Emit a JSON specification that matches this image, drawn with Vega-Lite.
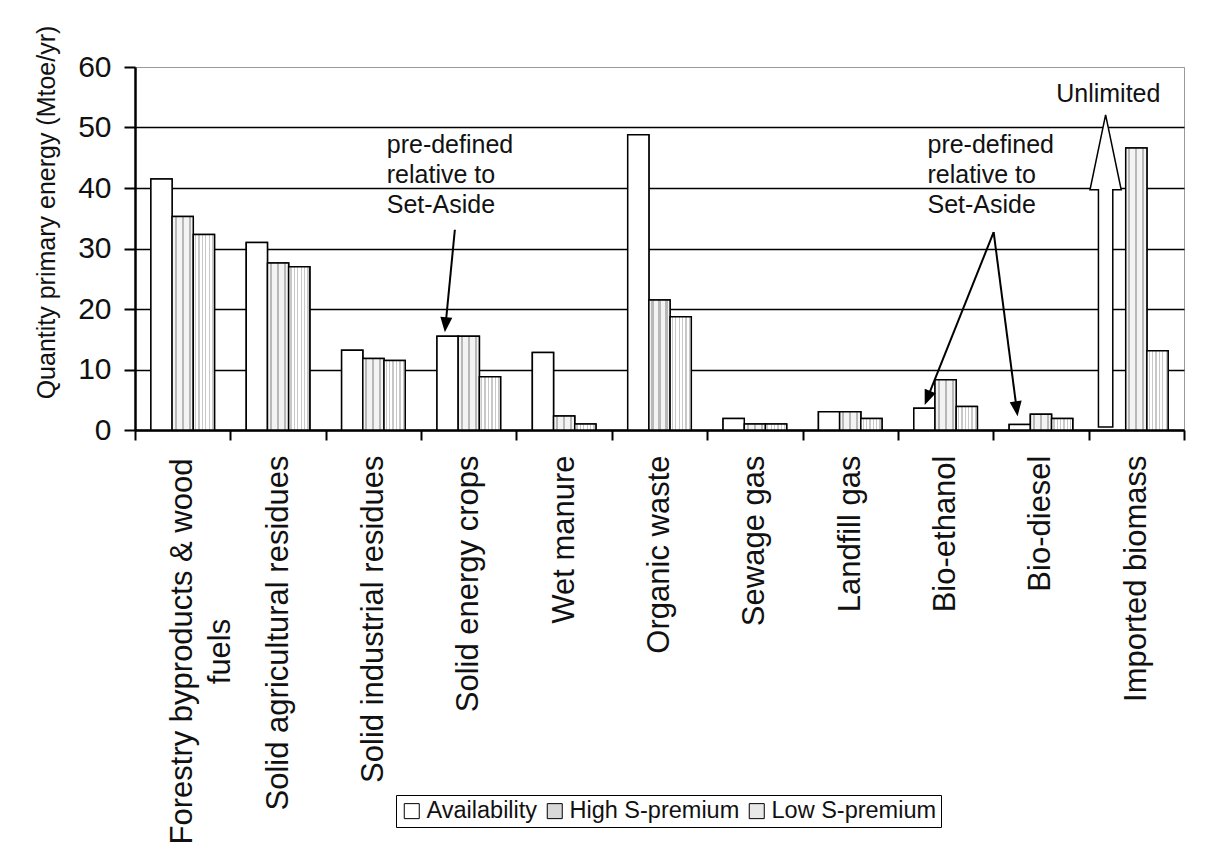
{
  "$schema": "https://vega.github.io/schema/vega-lite/v6.json",
  "width": 1049,
  "height": 363,
  "autosize": {"type": "none"},
  "padding": {"left": 135, "top": 67, "right": 27, "bottom": 435},
  "background": "white",
  "config": {
    "font": "Liberation Sans",
    "view": {"stroke": "#9a9a9a", "strokeWidth": 1},
    "axis": {"labelFont": "Liberation Sans", "titleFont": "Liberation Sans", "labelColor": "#111", "titleColor": "#111", "domainColor": "black", "tickColor": "black"}
  },
  "datasets": {
    "bars": [
      {"source": "Forestry byproducts & wood fuels", "series": "Availability", "value": 41.5},
      {"source": "Forestry byproducts & wood fuels", "series": "High S-premium", "value": 35.3},
      {"source": "Forestry byproducts & wood fuels", "series": "Low S-premium", "value": 32.3},
      {"source": "Solid agricultural residues", "series": "Availability", "value": 31.0},
      {"source": "Solid agricultural residues", "series": "High S-premium", "value": 27.6},
      {"source": "Solid agricultural residues", "series": "Low S-premium", "value": 27.0},
      {"source": "Solid industrial residues", "series": "Availability", "value": 13.2},
      {"source": "Solid industrial residues", "series": "High S-premium", "value": 11.8},
      {"source": "Solid industrial residues", "series": "Low S-premium", "value": 11.5},
      {"source": "Solid energy crops", "series": "Availability", "value": 15.5},
      {"source": "Solid energy crops", "series": "High S-premium", "value": 15.5},
      {"source": "Solid energy crops", "series": "Low S-premium", "value": 8.8},
      {"source": "Wet manure", "series": "Availability", "value": 12.8},
      {"source": "Wet manure", "series": "High S-premium", "value": 2.3},
      {"source": "Wet manure", "series": "Low S-premium", "value": 1.0},
      {"source": "Organic waste", "series": "Availability", "value": 48.8},
      {"source": "Organic waste", "series": "High S-premium", "value": 21.5},
      {"source": "Organic waste", "series": "Low S-premium", "value": 18.7},
      {"source": "Sewage gas", "series": "Availability", "value": 1.9},
      {"source": "Sewage gas", "series": "High S-premium", "value": 1.0},
      {"source": "Sewage gas", "series": "Low S-premium", "value": 1.0},
      {"source": "Landfill gas", "series": "Availability", "value": 3.0},
      {"source": "Landfill gas", "series": "High S-premium", "value": 3.0},
      {"source": "Landfill gas", "series": "Low S-premium", "value": 1.9},
      {"source": "Bio-ethanol", "series": "Availability", "value": 3.6},
      {"source": "Bio-ethanol", "series": "High S-premium", "value": 8.3},
      {"source": "Bio-ethanol", "series": "Low S-premium", "value": 3.9},
      {"source": "Bio-diesel", "series": "Availability", "value": 0.9},
      {"source": "Bio-diesel", "series": "High S-premium", "value": 2.6},
      {"source": "Bio-diesel", "series": "Low S-premium", "value": 1.9},
      {"source": "Imported biomass", "series": "High S-premium", "value": 46.6},
      {"source": "Imported biomass", "series": "Low S-premium", "value": 13.1}
    ],
    "notes": [
      {"u": 2.64, "y": 45.8, "t": "pre-defined"},
      {"u": 2.64, "y": 40.8, "t": "relative to"},
      {"u": 2.64, "y": 35.8, "t": "Set-Aside"},
      {"u": 8.31, "y": 45.8, "t": "pre-defined"},
      {"u": 8.31, "y": 40.8, "t": "relative to"},
      {"u": 8.31, "y": 35.8, "t": "Set-Aside"},
      {"u": 9.66, "y": 54.2, "t": "Unlimited"}
    ],
    "arrows": [
      {"id": "a1", "k": 0, "u": 3.354, "y": 33.1},
      {"id": "a1", "k": 1, "u": 3.257, "y": 17.4},
      {"id": "a2", "k": 0, "u": 9.004, "y": 32.7},
      {"id": "a2", "k": 1, "u": 8.31, "y": 5.3},
      {"id": "a3", "k": 0, "u": 9.004, "y": 32.7},
      {"id": "a3", "k": 1, "u": 9.245, "y": 3.5}
    ]
  },
  "layer": [
    {
      "data": {"name": "bars"},
      "layer": [
        {
          "mark": {"type": "bar", "stroke": "black", "strokeWidth": 1.5},
          "encoding": {
            "fill": {
              "field": "series", "type": "nominal",
              "scale": {
                "domain": ["Availability", "High S-premium", "Low S-premium"],
                "range": ["white", "#d9d9d9", "#e8e8e8"]
              },
              "legend": {
                "title": null,
                "orient": "none",
                "legendX": 261,
                "legendY": 728,
                "direction": "horizontal",
                "strokeColor": "black",
                "fillColor": "white",
                "padding": 4,
                "labelFont": "Liberation Sans",
                "labelFontSize": 23.5,
                "labelColor": "#111",
                "labelLimit": 0,
                "symbolType": "square",
                "symbolSize": 225,
                "symbolStrokeColor": "black",
                "symbolStrokeWidth": 1,
                "symbolOpacity": 1,
                "labelOffset": 3,
                "columnPadding": 5,
                "encode": {
                  "symbols": {
                    "update": {
                      "stroke": {"value": "black"},
                      "strokeWidth": {"value": 1},
                      "opacity": {"value": 1}
                    }
                  }
                }
              }
            }
          }
        },
        {
          "mark": {"type": "bar", "stroke": "black", "strokeWidth": 1.5},
          "encoding": {
            "fill": {
              "condition": [
                {"test": "datum.series === 'High S-premium'", "value": {"gradient": "linear", "x1": 0, "y1": 0, "x2": 1, "y2": 0, "stops": [
                  {"offset": 0, "color": "#f3f3f3"}, {"offset": 0.12, "color": "#f3f3f3"},
                  {"offset": 0.12, "color": "#b8b8b8"}, {"offset": 0.22, "color": "#b8b8b8"},
                  {"offset": 0.22, "color": "#f3f3f3"}, {"offset": 0.45, "color": "#f3f3f3"},
                  {"offset": 0.45, "color": "#b8b8b8"}, {"offset": 0.55, "color": "#b8b8b8"},
                  {"offset": 0.55, "color": "#f3f3f3"}, {"offset": 0.78, "color": "#f3f3f3"},
                  {"offset": 0.78, "color": "#b8b8b8"}, {"offset": 0.88, "color": "#b8b8b8"},
                  {"offset": 0.88, "color": "#f3f3f3"}, {"offset": 1, "color": "#f3f3f3"}
                ]}},
                {"test": "datum.series === 'Low S-premium'", "value": {"gradient": "linear", "x1": 0, "y1": 0, "x2": 1, "y2": 0, "stops": [
                  {"offset": 0, "color": "#ffffff"}, {"offset": 0.08, "color": "#ffffff"},
                  {"offset": 0.08, "color": "#c8c8c8"}, {"offset": 0.14, "color": "#c8c8c8"},
                  {"offset": 0.14, "color": "#ffffff"}, {"offset": 0.24, "color": "#ffffff"},
                  {"offset": 0.24, "color": "#c8c8c8"}, {"offset": 0.30, "color": "#c8c8c8"},
                  {"offset": 0.30, "color": "#ffffff"}, {"offset": 0.40, "color": "#ffffff"},
                  {"offset": 0.40, "color": "#c8c8c8"}, {"offset": 0.46, "color": "#c8c8c8"},
                  {"offset": 0.46, "color": "#ffffff"}, {"offset": 0.56, "color": "#ffffff"},
                  {"offset": 0.56, "color": "#c8c8c8"}, {"offset": 0.62, "color": "#c8c8c8"},
                  {"offset": 0.62, "color": "#ffffff"}, {"offset": 0.72, "color": "#ffffff"},
                  {"offset": 0.72, "color": "#c8c8c8"}, {"offset": 0.78, "color": "#c8c8c8"},
                  {"offset": 0.78, "color": "#ffffff"}, {"offset": 0.88, "color": "#ffffff"},
                  {"offset": 0.88, "color": "#c8c8c8"}, {"offset": 0.94, "color": "#c8c8c8"},
                  {"offset": 0.94, "color": "#ffffff"}, {"offset": 1, "color": "#ffffff"}
                ]}}
              ],
              "value": "white"
            }
          }
        }
      ],
      "encoding": {
        "x": {
          "field": "source", "type": "nominal", "sort": null,
          "scale": {"paddingInner": 0, "paddingOuter": 0},
          "axis": {
            "title": null,
            "labelAngle": 270,
            "labelAlign": {"condition": {"test": "datum.value === 'Forestry byproducts & wood fuels'", "value": "center"}, "value": "right"},
            "labelPadding": {"condition": {"test": "datum.value === 'Forestry byproducts & wood fuels'", "value": 211}, "value": 15},
            "labelBaseline": "middle",
            "labelExpr": "datum.value === 'Forestry byproducts & wood fuels' ? ['Forestry byproducts  & wood', 'fuels'] : datum.label",
            "labelFontSize": 31,
            "labelLineHeight": 38,
            "labelOverlap": false,
            "labelBound": false,
            "labelLimit": 0,
            "tickBand": "extent",
            "tickSize": 10,
            "tickWidth": 2,
            "domainWidth": 2.5,
            "grid": false
          }
        },
        "xOffset": {"field": "series", "type": "nominal", "sort": ["Availability", "High S-premium", "Low S-premium"], "scale": {"paddingInner": 0, "paddingOuter": 0.75}},
        "y": {
          "field": "value", "type": "quantitative",
          "scale": {"domain": [0, 60], "nice": false},
          "axis": {
            "title": "Quantity primary energy (Mtoe/yr)",
            "titleFontSize": 25,
            "titleFontWeight": "normal",
            "titleAngle": 270,
            "titleBaseline": "middle",
            "titleX": -89,
            "titleY": 145,
            "values": [0, 10, 20, 30, 40, 50, 60],
            "grid": true,
            "gridColor": {"condition": {"test": "datum.value === 60", "value": "#9a9a9a"}, "value": "black"},
            "gridWidth": {"condition": {"test": "datum.value === 60", "value": 1}, "value": 1.5},
            "labelFontSize": 30,
            "labelPadding": 13,
            "tickSize": 11,
            "tickWidth": 2,
            "domainWidth": 2.5
          }
        }
      }
    },
    {
      "layer": [
        {
          "data": {"name": "notes"},
          "mark": {"type": "text", "align": "left", "baseline": "alphabetic", "fontSize": 25, "font": "Liberation Sans", "color": "#111"},
          "encoding": {
            "x": {"field": "u", "type": "quantitative", "scale": {"domain": [0, 11], "nice": false, "zero": false}, "axis": null},
            "y": {"field": "y", "type": "quantitative"},
            "text": {"field": "t"}
          }
        },
        {
          "data": {"name": "arrows"},
          "mark": {"type": "line", "color": "black", "strokeWidth": 2},
          "encoding": {
            "x": {"field": "u", "type": "quantitative"},
            "y": {"field": "y", "type": "quantitative"},
            "detail": {"field": "id"},
            "order": {"field": "k"}
          }
        },
        {
          "data": {"values": [{"u": 3.257, "y": 17.4}]},
          "mark": {"type": "point", "shape": "M0,1L-0.8,-1L0.8,-1Z", "size": 225, "filled": true, "fill": "black", "opacity": 1, "angle": 5.6},
          "encoding": {"x": {"field": "u", "type": "quantitative"}, "y": {"field": "y", "type": "quantitative"}}
        },
        {
          "data": {"values": [{"u": 8.31, "y": 5.3}]},
          "mark": {"type": "point", "shape": "M0,1L-0.8,-1L0.8,-1Z", "size": 225, "filled": true, "fill": "black", "opacity": 1, "angle": 21.7},
          "encoding": {"x": {"field": "u", "type": "quantitative"}, "y": {"field": "y", "type": "quantitative"}}
        },
        {
          "data": {"values": [{"u": 9.245, "y": 3.5}]},
          "mark": {"type": "point", "shape": "M0,1L-0.8,-1L0.8,-1Z", "size": 225, "filled": true, "fill": "black", "opacity": 1, "angle": -7.4},
          "encoding": {"x": {"field": "u", "type": "quantitative"}, "y": {"field": "y", "type": "quantitative"}}
        },
        {
          "data": {"values": [{"u": 10.178, "y": 26.3}]},
          "mark": {"type": "point", "shape": "M0,-1L0.1,-0.52L0.046,-0.52L0.046,1L-0.046,1L-0.046,-0.52L-0.1,-0.52Z", "size": 97344, "filled": true, "fill": "white", "stroke": "black", "strokeWidth": 1.5, "opacity": 1},
          "encoding": {"x": {"field": "u", "type": "quantitative"}, "y": {"field": "y", "type": "quantitative"}}
        }
      ]
    }
  ],
  "resolve": {"scale": {"x": "independent"}}
}
